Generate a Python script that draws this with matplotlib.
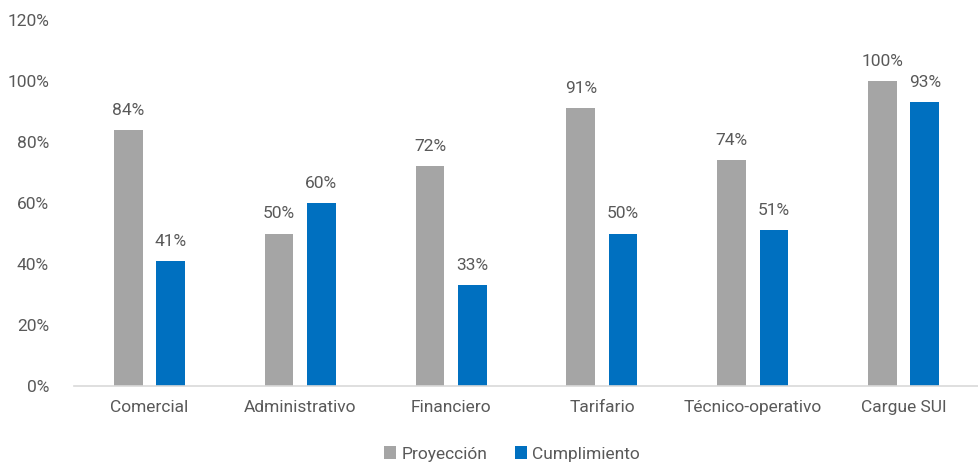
import matplotlib
matplotlib.use("Agg")
import matplotlib.pyplot as plt
import numpy as np

categories = ["Comercial", "Administrativo", "Financiero", "Tarifario", "Técnico-operativo", "Cargue SUI"]
proyeccion = [84, 50, 72, 91, 74, 100]
cumplimiento = [41, 60, 33, 50, 51, 93]
yticks = [0, 20, 40, 60, 80, 100, 120]

plt.rcParams['font.family'] = ['Roboto', 'DejaVu Sans']
txt = '#595959'
fs = 12.5

fig = plt.figure(figsize=(9.79, 4.67), dpi=100)
ax = fig.add_axes([0.0756, 0.1734, 0.9244, 0.7838])

x = np.arange(len(categories))
w = 0.19
off = 0.14
b1 = ax.bar(x - off, proyeccion, w, color='#A5A5A5', label='Proyección')
b2 = ax.bar(x + off, cumplimiento, w, color='#0070C0', label='Cumplimiento')
for bars, vals in ((b1, proyeccion), (b2, cumplimiento)):
    for r, v in zip(bars, vals):
        ax.text(r.get_x() + r.get_width() / 2, v + 4, f"{v}%", ha='center', va='bottom',
                fontsize=fs, color=txt)

ax.set_xlim(-0.5, len(categories) - 0.5)
ax.set_ylim(0, 120)
ax.set_yticks(yticks)
ax.set_yticklabels([f"{t}%" for t in yticks], fontsize=fs, color=txt)
ax.set_xticks(x)
ax.set_xticklabels(categories, fontsize=fs, color=txt)
ax.tick_params(length=0, pad=18)
ax.tick_params(axis='x', pad=10)
for s in ['left', 'right', 'top']:
    ax.spines[s].set_visible(False)
ax.spines['bottom'].set_color('#D9D9D9')
ax.spines['bottom'].set_linewidth(1.2)

leg = fig.legend(loc='lower center', bbox_to_anchor=(0.523, -0.022), ncol=2, frameon=False,
                 fontsize=fs, handlelength=0.7, handleheight=0.7, handletextpad=0.3,
                 columnspacing=1.6)
for t in leg.get_texts():
    t.set_color(txt)

fig.savefig("out.png", dpi=100)
